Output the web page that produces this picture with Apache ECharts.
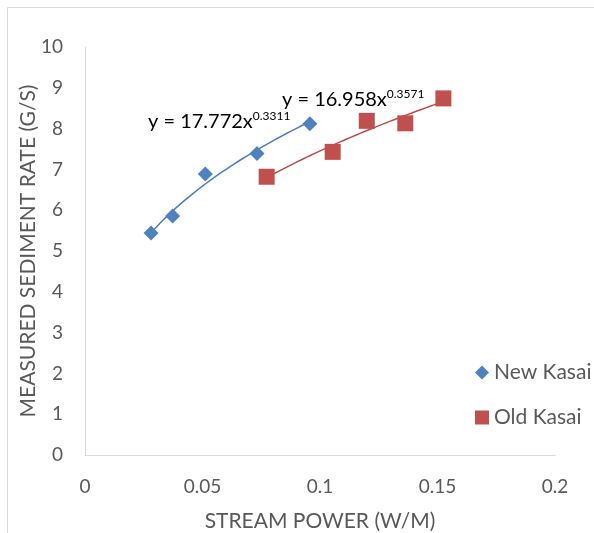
<!DOCTYPE html>
<html>
<head>
<meta charset="utf-8">
<script src="https://cdn.jsdelivr.net/npm/echarts@6/dist/echarts.min.js"></script>
<style>
  html, body { margin: 0; padding: 0; background: #fff; }
  #chart { width: 594px; height: 533px; }
</style>
</head>
<body>
<div id="chart"></div>
<script>
// stream power (W/M) vs measured sediment rate (G/S)
var newKasaiX = [0.0281, 0.0373, 0.0512, 0.0732, 0.0957];
var newKasaiY = [5.44, 5.86, 6.89, 7.39, 8.12];
var oldKasaiX = [0.0773, 0.1054, 0.1199, 0.1363, 0.1525];
var oldKasaiY = [6.82, 7.43, 8.19, 8.13, 8.74];

// power trendline coefficients as printed on the chart: y = a * x^b
var newKasaiFit = [17.772, 0.3311];
var oldKasaiFit = [16.958, 0.3571];

var xTicks = [0, 0.05, 0.1, 0.15, 0.2];
var yTicks = [0, 1, 2, 3, 4, 5, 6, 7, 8, 9, 10];

var BLUE = '#4f81bd';
var RED = '#c0504d';
var TEXT = '#595959';
var FONT = 'Lato, "Open Sans", sans-serif';

function pairs(xs, ys) {
    return xs.map(function (x, i) { return [x, ys[i]]; });
}

function trend(xs, fit) {
    var lo = Math.min.apply(null, xs), hi = Math.max.apply(null, xs);
    var pts = [];
    for (var i = 0; i <= 40; i++) {
        var x = lo + (hi - lo) * i / 40;
        pts.push([x, fit[0] * Math.pow(x, fit[1])]);
    }
    return pts;
}

function eqLabel(fit) {
    return '{m|y = ' + fit[0] + 'x}{s|' + fit[1] + '}';
}

var eqRich = {
    m: {fontSize: 20, color: TEXT, fontFamily: FONT},
    s: {fontSize: 12, color: TEXT, fontFamily: FONT, padding: [0, 0, 11, 0]}
};

var chart = echarts.init(document.getElementById('chart'));
chart.setOption({
    animation: false,
    textStyle: {fontFamily: FONT},
    grid: {left: 85, right: 39, top: 47, bottom: 78, outerBoundsMode: 'none'},
    legend: {
        orient: 'vertical',
        left: 470, top: 357,
        itemGap: 24,
        itemWidth: 14, itemHeight: 14,
        textStyle: {color: TEXT, fontSize: 21, fontFamily: FONT},
        data: [
            {name: 'New Kasai', icon: 'diamond'},
            {name: 'Old Kasai', icon: 'rect'}
        ]
    },
    xAxis: {
        type: 'value',
        min: 0, max: 0.2, interval: 0.05,
        name: 'STREAM POWER (W/M)',
        nameLocation: 'middle',
        nameGap: 56,
        nameMoveOverlap: false,
        nameTextStyle: {color: TEXT, fontSize: 21, fontFamily: FONT},
        axisLine: {show: true, lineStyle: {color: '#d9d9d9', width: 1}},
        axisTick: {show: false},
        splitLine: {show: false},
        axisLabel: {
            color: TEXT, fontSize: 19, margin: 22, fontFamily: FONT,
            formatter: function (v) { return xTicks.indexOf(v) >= 0 ? String(v) : ''; }
        }
    },
    yAxis: {
        type: 'value',
        min: 0, max: 10, interval: 1,
        name: 'MEASURED SEDIMENT RATE (G/S)',
        nameLocation: 'middle',
        nameGap: 46,
        nameMoveOverlap: false,
        nameTextStyle: {color: TEXT, fontSize: 21, fontFamily: FONT},
        axisLine: {show: true, lineStyle: {color: '#d9d9d9', width: 1}},
        axisTick: {show: false},
        splitLine: {show: false},
        axisLabel: {
            color: TEXT, fontSize: 19, margin: 22, fontFamily: FONT,
            formatter: function (v) { return yTicks.indexOf(v) >= 0 ? String(v) : ''; }
        }
    },
    series: [
        {
            name: 'New Kasai',
            type: 'scatter',
            symbol: 'diamond',
            symbolSize: 15,
            itemStyle: {color: BLUE, opacity: 1},
            data: pairs(newKasaiX, newKasaiY),
            z: 3
        },
        {
            name: 'Old Kasai',
            type: 'scatter',
            symbol: 'rect',
            symbolSize: 16,
            itemStyle: {color: RED, opacity: 1},
            data: pairs(oldKasaiX, oldKasaiY),
            z: 3
        },
        {
            name: 'New Kasai fit',
            type: 'line',
            showSymbol: false,
            lineStyle: {color: '#4a7ebb', width: 1.5},
            data: trend(newKasaiX, newKasaiFit),
            z: 2
        },
        {
            name: 'Old Kasai fit',
            type: 'line',
            showSymbol: false,
            lineStyle: {color: '#be4b48', width: 1.5},
            data: trend(oldKasaiX, oldKasaiFit),
            z: 2
        }
    ],
    graphic: [
        {
            type: 'rect', left: 5, top: 5, silent: true,
            shape: {width: 700, height: 700},
            style: {fill: 'none', stroke: '#d9d9d9', lineWidth: 1}
        },
        {
            type: 'text', left: 148, top: 110,
            style: {text: eqLabel(newKasaiFit), rich: eqRich}
        },
        {
            type: 'text', left: 282, top: 88,
            style: {text: eqLabel(oldKasaiFit), rich: eqRich}
        }
    ]
});
</script>
</body>
</html>
